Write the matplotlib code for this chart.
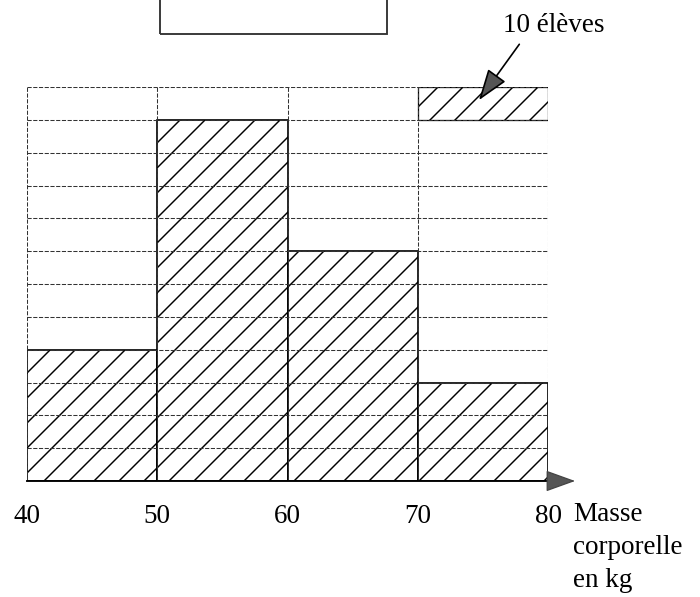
import matplotlib.pyplot as plt
from matplotlib.patches import Rectangle

# classes de masse (kg) et effectifs
bornes = [40, 50, 60, 70, 80]
effectifs = [40, 110, 70, 30]
tick_labels = ['40', '50', '60', '70', '80']
unite = 10          # un carreau = 10 élèves
y_max = 120
cle_x = 70          # position du carreau-légende
cle_y = 110

plt.rcParams['font.family'] = ['Liberation Serif', 'DejaVu Serif']
plt.rcParams['hatch.linewidth'] = 0.7

DPI = 150
fig = plt.figure(figsize=(701 / DPI, 597 / DPI), dpi=DPI)
ax = fig.add_axes([27 / 701, (597 - 481) / 597, 521 / 701, 394 / 597])

largeurs = [b - a for a, b in zip(bornes[:-1], bornes[1:])]

# histogramme hachuré
ax.bar(bornes[:-1], effectifs, width=largeurs, align='edge',
       facecolor='white', edgecolor='black', hatch='//', linewidth=0.8, zorder=1)

# carreau-légende
ax.bar([cle_x], [unite], width=[largeurs[-1]], bottom=[cle_y], align='edge',
       facecolor='white', edgecolor='black', hatch='//', linewidth=0.6, zorder=1)

# quadrillage pointillé
grille = dict(color='#333333', linewidth=0.5, linestyle=(0, (4, 1.5)), zorder=2)
ax.hlines(range(unite, y_max + 1, unite), bornes[0], bornes[-1], **grille)
ax.vlines(bornes, 0, y_max, **grille)

ax.set_xlim(bornes[0], bornes[-1])
ax.set_ylim(0, y_max)
for s in ax.spines.values():
    s.set_visible(False)
ax.set_yticks([])
ax.set_xticks(bornes)
ax.set_xticklabels(tick_labels, fontsize=13)
ax.tick_params(axis='x', length=0, pad=11)

# axe des abscisses avec flèche
ax.plot([bornes[0], bornes[-1] + 0.6], [0, 0], color='black', linewidth=0.9,
        clip_on=False, zorder=3)
ax.annotate('', xy=(bornes[-1] + 2.4, 0), xytext=(bornes[-1] + 0.4, 0),
            arrowprops=dict(arrowstyle='-|>,head_length=1.25,head_width=0.45',
                            mutation_scale=10, facecolor='#555555',
                            edgecolor='#444444', linewidth=0.6),
            annotation_clip=False)

fig.text(573 / 701, (597 - 502) / 597, 'Masse\ncorporelle\nen kg',
         fontsize=13, ha='left', va='top', linespacing=1.42)

# annotation "10 élèves"
ax.annotate('10 élèves', xy=(74.7, 116), xytext=(80.46, 138.6),
            ha='center', va='center', fontsize=13, annotation_clip=False,
            arrowprops=dict(arrowstyle='-|>,head_length=1.3,head_width=0.45',
                            mutation_scale=10, facecolor='#555555',
                            edgecolor='black', linewidth=0.8,
                            relpos=(0.2, 0), shrinkA=1, shrinkB=0))

# cadre coupé en haut de l'image
fig.patches.append(Rectangle((160 / 701, (597 - 34) / 597), 227 / 701, 0.1,
                             transform=fig.transFigure, fill=False,
                             edgecolor='#333333', linewidth=0.9))

fig.savefig('out.png', dpi=DPI, facecolor='white')
